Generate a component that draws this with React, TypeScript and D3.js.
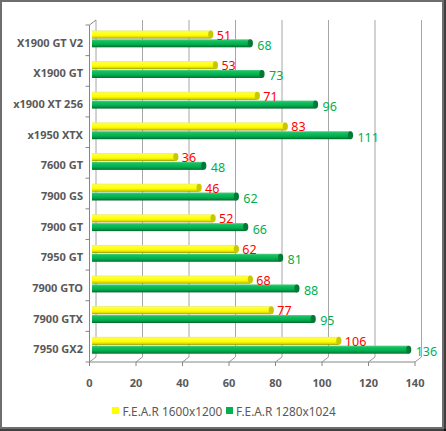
import * as d3 from 'd3';

// chart data (top to bottom)
const categories = ['X1900 GT V2', 'X1900 GT', 'x1900 XT 256', 'x1950 XTX', '7600 GT', '7900 GS', '7900 GT', '7950 GT', '7900 GTO', '7900 GTX', '7950 GX2'];
const fear1600 = [51, 53, 71, 83, 36, 46, 52, 62, 68, 77, 106];
const fear1280 = [68, 73, 96, 111, 48, 62, 66, 81, 88, 95, 136];
const seriesNames = ['F.E.A.R 1600x1200', 'F.E.A.R 1280x1024'];
const xTicks = [0, 20, 40, 60, 80, 100, 120, 140];

const W = 446;
const H = 431;
const depthX = 6.5;
const depthY = 5;
const top = 25;
const floor = 362;

export default function App() {
  const front = d3.scaleLinear().domain([0, 140]).range([89.5, 415]);
  const back = d3.scaleLinear().domain([0, 140]).range([89.5 + depthX, 415 + depthX]);
  const bar = d3.scaleLinear().domain([0, 140]).range([92, 418]);
  const y = d3.scaleBand<string>().domain(categories).range([top, floor]).padding(0);
  const bw = y.bandwidth();
  const bandEdges = d3.range(categories.length + 1).map(i => top + i * bw);

  const gray = '#595959';
  const font = '"Noto Sans", "Open Sans", sans-serif';
  const barH = 8;

  const cyl = (v: number, yy: number, grad: string, cap: string, key: string) => (
    <g key={key}>
      <rect x={bar(0)} y={yy} width={bar(v) - bar(0)} height={barH} fill={`url(#${grad})`} />
      <ellipse cx={bar(v)} cy={yy + barH / 2} rx={2.6} ry={barH / 2} fill={cap} />
    </g>
  );

  return (
    <svg width={W} height={H} style={{ position: 'absolute', left: 0, top: 0 }} fontFamily={font}>
      <defs>
        <linearGradient id="gy" x1="0" y1="0" x2="0" y2="1">
          <stop offset="0" stopColor="#e8e860" />
          <stop offset="0.15" stopColor="#ffff40" />
          <stop offset="0.6" stopColor="#ffff00" />
          <stop offset="0.85" stopColor="#d8d800" />
          <stop offset="1" stopColor="#8c8c00" />
        </linearGradient>
        <linearGradient id="gg" x1="0" y1="0" x2="0" y2="1">
          <stop offset="0" stopColor="#5ccf86" />
          <stop offset="0.2" stopColor="#14c060" />
          <stop offset="0.6" stopColor="#00b050" />
          <stop offset="0.85" stopColor="#008a3c" />
          <stop offset="1" stopColor="#005c28" />
        </linearGradient>
      </defs>
      <rect x={0} y={0} width={W} height={H} fill="#fff" />

      {/* back wall gridlines and floor */}
      {xTicks.map(t => (
        <g key={'g' + t} stroke="#a6a6a6" strokeWidth={1}>
          <line x1={back(t)} x2={back(t)} y1={top - depthY} y2={floor - depthY} />
          <line x1={front(t)} x2={back(t)} y1={floor} y2={floor - depthY} stroke="#9a9a9a" />
          <line x1={front(t)} x2={front(t)} y1={floor} y2={floor + 4} stroke="#868686" />
        </g>
      ))}
      <line x1={front(0)} x2={front(140)} y1={floor} y2={floor} stroke="#868686" />
      {/* left wall */}
      <line x1={front(0)} x2={front(0)} y1={top} y2={floor} stroke="#868686" />
      <line x1={front(0)} x2={back(0)} y1={top} y2={top - depthY} stroke="#868686" />
      {bandEdges.map((e, i) => (
        <line key={'t' + i} x1={front(0) - 4} x2={front(0)} y1={e} y2={e} stroke="#868686" />
      ))}

      {/* bars */}
      {categories.map((c, i) => {
        const b = y(c) as number;
        return (
          <g key={c}>
            {cyl(fear1600[i], b + 5.5, 'gy', '#c8c800', 'y' + i)}
            {cyl(fear1280[i], b + 14.3, 'gg', '#007a36', 'g' + i)}
            <text x={bar(fear1600[i]) + 6} y={b + 14.5} fontSize={12.5} fill="#ff0000">{fear1600[i]}</text>
            <text x={bar(fear1280[i]) + 7} y={b + 24.7} fontSize={12.5} fill="#00b050">{fear1280[i]}</text>
            <text x={83} y={b + bw / 2 + 6.5} fontSize={11} fontWeight="bold" fill={gray} textAnchor="end">{c}</text>
          </g>
        );
      })}

      {/* x tick labels */}
      {xTicks.map(t => (
        <text key={'l' + t} x={front(t)} y={387} fontSize={11} fontWeight="bold" fill={gray} textAnchor="middle">{t}</text>
      ))}

      {/* legend */}
      <rect x={112} y={407} width={7} height={7} fill="#ffff00" />
      <text x={122.5} y={415.5} fontSize={11.8} fill={gray}>{seriesNames[0]}</text>
      <rect x={226} y={407} width={7} height={7} fill="#00b050" />
      <text x={236} y={415.5} fontSize={11.8} fill={gray}>{seriesNames[1]}</text>

      {/* border */}
      <rect x={1} y={1} width={442} height={427} fill="none" stroke="#6e6e6e" strokeWidth={2} />
      <line x1={445} x2={445} y1={0} y2={H} stroke="#000" strokeWidth={1.5} />
      <line x1={0} x2={W} y1={430} y2={430} stroke="#000" strokeWidth={1.5} />
    </svg>
  );
}
